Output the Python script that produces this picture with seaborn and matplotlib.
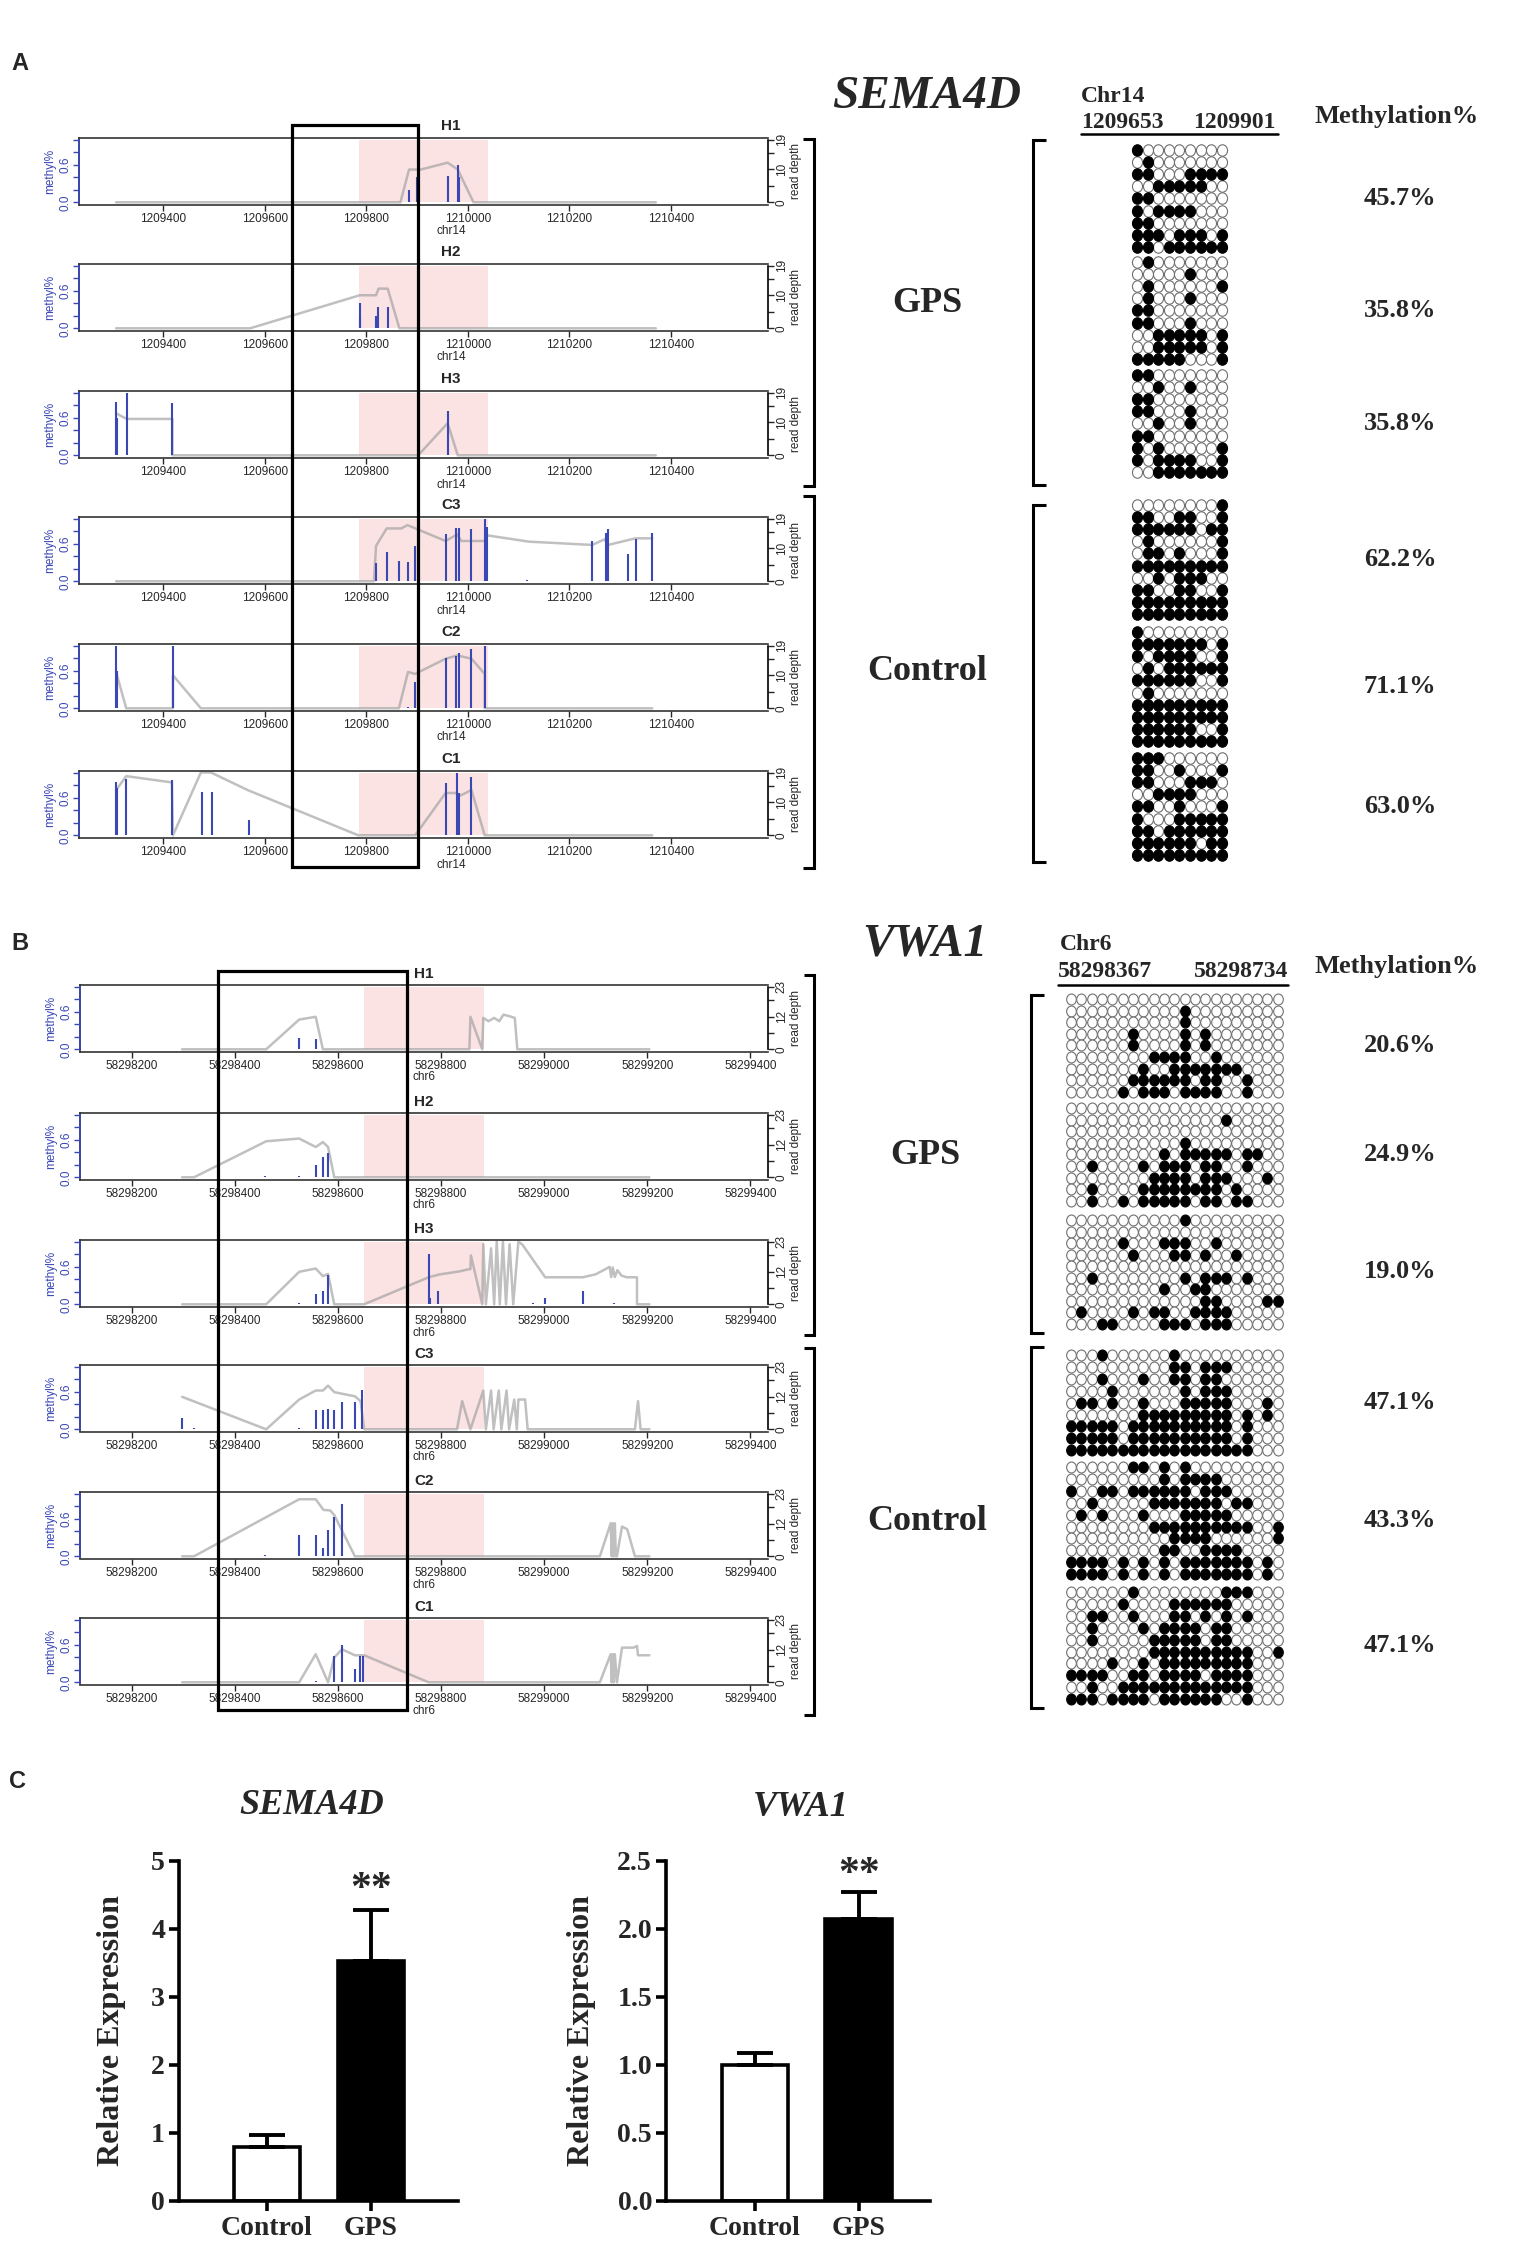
import numpy as np
import pandas as pd
import matplotlib
matplotlib.use("Agg")
import matplotlib.pyplot as plt
import seaborn as sns
from matplotlib.patches import Rectangle
from matplotlib.transforms import blended_transform_factory, Affine2D
from matplotlib.path import Path
from matplotlib.markers import MarkerStyle

sns.set_style("white")
SANS = ["Liberation Sans", "DejaVu Sans"]
SERIF = ["Liberation Serif", "DejaVu Serif"]
plt.rcParams["font.family"] = SANS

# ===================== DATA =====================
# ---- SEMA4D tracks (chr14) ----
sema_xticks = [1209400, 1209600, 1209800, 1210000, 1210200, 1210400]
sema_xlim = (1209234, 1210591)
sema_pink = (1209785, 1210040)
sema_region = (1209653, 1209901)
sema_depth_max = 19
sema_depth_ticks = [0, 5, 10, 15, 19]
sema_depth_labels = ["0", "", "10", "", "19"]
sema_names = ["H1", "H2", "H3", "C3", "C2", "C1"]

sema_h1_cov_x = [1209307, 1209867, 1209884, 1209907, 1209960, 1209980, 1210011, 1210370]
sema_h1_cov_y = [0, 0, 9.9, 9.9, 12, 9.9, 0, 0]
sema_h1_met_x = [1209884, 1209900, 1209960, 1209980, 1209983]
sema_h1_met_y = [0.2, 0.4, 0.42, 0.6, 0.4]

sema_h2_cov_x = [1209307, 1209571, 1209787, 1209819, 1209824, 1209842, 1209865, 1210370]
sema_h2_cov_y = [0, 0, 10, 10, 12, 12, 0, 0]
sema_h2_met_x = [1209787, 1209788, 1209819, 1209822, 1209842]
sema_h2_met_y = [0.4, 0.2, 0.2, 0.34, 0.34]

sema_h3_cov_x = [1209307, 1209328, 1209418, 1209418, 1209902, 1209960, 1209980, 1210370]
sema_h3_cov_y = [12.7, 11, 11, 0, 0, 9.7, 0, 0]
sema_h3_met_x = [1209307, 1209308, 1209328, 1209418, 1209960]
sema_h3_met_y = [0.85, 0.6, 1.0, 0.83, 0.71]

sema_c3_cov_x = [1209307, 1209815, 1209819, 1209840, 1209869, 1209881, 1209956, 1209979, 1209987,
                 1210033, 1210038, 1210120, 1210245, 1210269, 1210276, 1210330, 1210363]
sema_c3_cov_y = [0, 0, 10.7, 16, 16, 17, 12.2, 14.2, 12.2, 12.2, 13.9, 12, 11, 12.7, 11, 13, 13]
sema_c3_met_x = [1209819, 1209840, 1209864, 1209882, 1209896, 1209956, 1209976, 1209982, 1210007,
                 1210033, 1210038, 1210117, 1210245, 1210271, 1210276, 1210315, 1210332, 1210363]
sema_c3_met_y = [0.29, 0.46, 0.33, 0.3, 0.57, 0.76, 0.85, 0.85, 0.84, 1.0, 0.86, 0.02, 0.64, 0.77,
                 0.83, 0.43, 0.68, 0.77]

sema_c2_cov_x = [1209307, 1209327, 1209419, 1209419, 1209474, 1209864, 1209882, 1209896, 1209956,
                 1209979, 1210007, 1210033, 1210033, 1210363]
sema_c2_cov_y = [11, 0, 0, 10, 0, 0, 11, 10.4, 15, 16, 15, 10.4, 0, 0]
sema_c2_met_x = [1209307, 1209308, 1209419, 1209882, 1209896, 1209956, 1209976, 1209982, 1210007, 1210033]
sema_c2_met_y = [1.0, 0.6, 1.0, 0.02, 0.42, 0.8, 0.84, 0.88, 0.94, 1.0]

sema_c1_cov_x = [1209307, 1209327, 1209417, 1209419, 1209474, 1209494, 1209566, 1209784, 1209896,
                 1209956, 1209976, 1209982, 1210007, 1210033, 1210363]
sema_c1_cov_y = [13.7, 17.9, 16, 0, 19, 19, 13.7, 0, 0, 12.8, 12.8, 11.8, 13.7, 0, 0]
sema_c1_met_x = [1209307, 1209308, 1209327, 1209417, 1209476, 1209496, 1209569, 1209956, 1209978,
                 1209982, 1210007]
sema_c1_met_y = [0.85, 0.75, 0.89, 0.88, 0.69, 0.69, 0.25, 0.84, 1.0, 0.68, 0.93]

# ---- VWA1 tracks (chr6) ----
vwa_xticks = [58298200, 58298400, 58298600, 58298800, 58299000, 58299200, 58299400]
vwa_xlim = (58298100, 58299434)
vwa_pink = (58298651, 58298884)
vwa_region = (58298367, 58298734)
vwa_depth_max = 23
vwa_depth_ticks = [0, 6, 12, 18, 23]
vwa_depth_labels = ["0", "", "12", "", "23"]
vwa_names = ["H1", "H2", "H3", "C3", "C2", "C1"]

vwa_h1_cov_x = [58298298, 58298461, 58298525, 58298557, 58298571, 58298855, 58298857, 58298880,
                58298882, 58298892, 58298903, 58298913, 58298921, 58298933, 58298943, 58298948, 58299204]
vwa_h1_cov_y = [0, 0, 10.9, 11.9, 0, 0, 11.9, 0, 11.5, 10.3, 11.5, 10.3, 12.7, 12.1, 11.5, 0, 0]
vwa_h1_met_x = [58298525, 58298557, 58298885, 58298895, 58298905, 58298915, 58298925, 58298940]
vwa_h1_met_y = [0.18, 0.17, 0.01, 0.01, 0.01, 0.01, 0.01, 0.01]

vwa_h2_cov_x = [58298298, 58298321, 58298461, 58298525, 58298557, 58298571, 58298581, 58298593, 58299204]
vwa_h2_cov_y = [0, 0, 13.2, 14.2, 11.1, 12.9, 11.1, 0, 0]
vwa_h2_met_x = [58298459, 58298525, 58298557, 58298571, 58298581]
vwa_h2_met_y = [0.02, 0.02, 0.19, 0.32, 0.38]

vwa_h3_cov_x = [58298298, 58298461, 58298525, 58298557, 58298571, 58298581, 58298593, 58298651,
                58298776, 58298796, 58298837, 58298850, 58298857, 58298858, 58298880, 58298882,
                58298887, 58298897, 58298903, 58298908, 58298914, 58298920, 58298926, 58298933,
                58298940, 58298950, 58298958, 58299002, 58299075, 58299100, 58299127, 58299130,
                58299133, 58299137, 58299142, 58299150, 58299160, 58299180, 58299180, 58299204]
vwa_h3_cov_y = [0, 0, 11.9, 13.1, 10.3, 11.1, 0, 0, 9.9, 10.9, 12.1, 12.7, 12.9, 17.9, 0, 22, 0,
                20.5, 0, 23, 0, 23, 0, 22, 0, 23, 21.8, 9.9, 9.9, 11, 13.7, 10, 13.5, 10, 12.5,
                10.5, 9.9, 9.9, 0, 0]
vwa_h3_met_x = [58298525, 58298557, 58298572, 58298581, 58298776, 58298779, 58298794, 58298830,
                58298838, 58298955, 58298962, 58298970, 58298978, 58298985, 58299002, 58299075,
                58299080, 58299090, 58299110, 58299120, 58299135, 58299150]
vwa_h3_met_y = [0.02, 0.17, 0.21, 0.47, 0.8, 0.1, 0.21, 0.01, 0.01, 0.01, 0.01, 0.01, 0.02, 0.01,
                0.1, 0.21, 0.01, 0.01, 0.01, 0.01, 0.02, 0.01]

vwa_c3_cov_x = [58298298, 58298461, 58298525, 58298557, 58298571, 58298581, 58298593, 58298633,
                58298644, 58298651, 58298831, 58298841, 58298857, 58298882, 58298887, 58298897,
                58298902, 58298912, 58298917, 58298927, 58298932, 58298942, 58298947, 58298950,
                58298963, 58298968, 58299176, 58299182, 58299187, 58299204]
vwa_c3_cov_y = [11.9, 0, 10.9, 14.2, 14.2, 16, 13.6, 12.1, 10.3, 0, 0, 10.3, 0, 14.2, 0, 14.2, 0,
                14.2, 0, 14.2, 0, 10.9, 0, 10.9, 10.9, 0, 0, 10.3, 0, 0]
vwa_c3_met_x = [58298298, 58298321, 58298525, 58298557, 58298571, 58298581, 58298593, 58298608,
                58298633, 58298646, 58298840, 58298945, 58298955]
vwa_c3_met_y = [0.18, 0.02, 0.02, 0.31, 0.31, 0.33, 0.31, 0.43, 0.43, 0.62, 0.01, 0.01, 0.01]

vwa_c2_cov_x = [58298298, 58298321, 58298525, 58298557, 58298572, 58298585, 58298593, 58298633,
                58299108, 58299129, 58299131, 58299133, 58299135, 58299137, 58299139, 58299141,
                58299151, 58299161, 58299176, 58299204]
vwa_c2_cov_y = [0, 0, 20.9, 20.9, 17, 16.8, 15.1, 0, 0, 12.1, 0, 12.1, 0, 12.1, 0, 0, 10.9, 9.9, 0, 0]
vwa_c2_met_x = [58298459, 58298525, 58298557, 58298571, 58298581, 58298593, 58298608, 58299131,
                58299151, 58299161]
vwa_c2_met_y = [0.02, 0.34, 0.34, 0.13, 0.42, 0.63, 0.83, 0.01, 0.01, 0.01]

vwa_c1_cov_x = [58298298, 58298525, 58298557, 58298581, 58298593, 58298608, 58298633, 58298651,
                58298776, 58299108, 58299129, 58299131, 58299133, 58299135, 58299137, 58299141,
                58299151, 58299173, 58299180, 58299182, 58299204]
vwa_c1_cov_y = [0, 0, 10.3, 0, 9.1, 12.1, 9.9, 9.9, 0, 0, 10.3, 0, 10.3, 0, 10.3, 0, 12.7, 12.7,
                13.3, 9.9, 9.9]
vwa_c1_met_x = [58298557, 58298593, 58298608, 58298633, 58298643, 58298649, 58299131, 58299156,
                58299186, 58299194, 58299202]
vwa_c1_met_y = [0.02, 0.42, 0.6, 0.21, 0.42, 0.42, 0.01, 0.01, 0.01, 0.01, 0.01]

met_ticks = [0.0, 0.2, 0.4, 0.6, 0.8, 1.0]
met_labels = ["0.0", "", "", "0.6", "", ""]

# ---- bisulfite lollipop patterns (1 = methylated) ----
sema_gps_1 = ["100000000", "010000000", "110001111", "001111100", "110000000",
              "101111000", "110000000", "111011101", "110111111"]
sema_gps_2 = ["010000000", "000001000", "010000001", "010001000", "110000000",
              "110001000", "001111101", "001111101", "111110001"]
sema_gps_3 = ["110000000", "001001000", "110000000", "110001000", "001001000",
              "110000000", "101000001", "101111001", "001111111"]
sema_ctl_1 = ["000000001", "110011001", "111111011", "010000001", "011010001",
              "111111111", "001011100", "110011001", "111111111", "111111111"]
sema_ctl_2 = ["100000000", "111111101", "101111001", "010111111", "111111001",
              "010000000", "111111111", "111111111", "111111001", "111111111"]
sema_ctl_3 = ["111000000", "110010001", "110001110", "001111000", "110010001",
              "100011111", "110111111", "111111011", "111111111"]
sema_pct = ["45.7%", "35.8%", "35.8%", "62.2%", "71.1%", "63.0%"]

vwa_gps_1 = ["000000000000000000000", "000000000001000000000", "000000000001000000000",
             "000000100001010000000", "000000100001010000000", "000000001111001000000",
             "000000010011111110000", "000000111111011001000", "000001011101111001000"]
vwa_gps_2 = ["000000000000000000000", "000000000000000100000", "000000000000000000000",
             "000000000001000000000", "000000000101111101100", "001000010111011001000",
             "000000001111011100010", "001000011111111010000", "001001011111011011000"]
vwa_gps_3 = ["000000000001000000000", "000000000000000000000", "000001000111001000000",
             "000000100011010010000", "000000000000000000000", "001000000001011101000",
             "000000000100110000000", "000000000000011000011", "010000101100111100000",
             "000110000111011100000"]
vwa_ctl_1 = ["000100000010000000000", "000000000011011100000", "000100010011011000000",
             "000010000001011100000", "011010010001111100010", "000000011111111101010",
             "111110111111111101000", "111110111111111101000", "111111111111111111000"]
vwa_ctl_2 = ["000000110101000000000", "000000000101111000000", "100110111111011100000",
             "001000001111111011000", "010100010001111100000", "000000001111111111001",
             "000000000011110000001", "000000000110011110000", "111101010101111111010",
             "111101010101111111010"]
vwa_ctl_3 = ["000000100000000111000", "000001000011111100000", "001100100011010101000",
             "001000010111101100000", "001000001111101100000", "000000001111111111001",
             "000010010111111111000", "111100110111101111000", "001001111111111111000",
             "111011110111111001000"]
vwa_pct = ["20.6%", "24.9%", "19.0%", "47.1%", "43.3%", "47.1%"]

# ---- qPCR bars ----
bar_groups = ["Control", "GPS"]
sema_expr = [0.80, 3.53]
sema_err = [0.17, 0.75]
vwa_expr = [1.00, 2.07]
vwa_err = [0.09, 0.20]
sema_bar_ticks = [0, 1, 2, 3, 4, 5]
sema_bar_labels = ["0", "1", "2", "3", "4", "5"]
vwa_bar_ticks = [0.0, 0.5, 1.0, 1.5, 2.0, 2.5]
vwa_bar_labels = ["0.0", "0.5", "1.0", "1.5", "2.0", "2.5"]

# ===================== STYLE / LAYOUT =====================
W, H = 1531, 2241
DPI = 100
BLUE = "#3a47b4"
PINK = "#fbe2e3"
COV_GREY = "#9e9e9e"
BOX = "#333333"
TICK_FS = 8.5
Y_LO, Y_HI = -0.035, 1.024

fig = plt.figure(figsize=(W / DPI, H / DPI), dpi=DPI, facecolor="white")


def add_ax_px(left, top, right, bottom):
    return fig.add_axes([left / W, 1 - bottom / H, (right - left) / W, (bottom - top) / H])


def draw_track(left, top, right, height, xlim, xticks, pink, cov_x, cov_y, met_x, met_y,
               dmax, dticks, dlabels):
    bottom = top + height
    ax = add_ax_px(left, top, right, bottom)
    ax2 = ax.twinx()
    f0 = (0 - Y_LO) / (Y_HI - Y_LO)
    f1 = (0.985 - Y_LO) / (Y_HI - Y_LO)
    ax.axvspan(pink[0], pink[1], ymin=f0, ymax=f1, color=PINK, lw=0, zorder=0)
    sns.lineplot(x=cov_x, y=cov_y, ax=ax, sort=False, estimator=None, color=COV_GREY,
                 alpha=0.65, lw=1.8, zorder=2)
    ax2.vlines(met_x, 0, met_y, color=BLUE, lw=1.5)
    ax.set_xlim(*xlim)
    ax.set_ylim(Y_LO * dmax, Y_HI * dmax)
    ax2.set_ylim(Y_LO, Y_HI)
    for sp in ax.spines.values():
        sp.set_color(BOX)
        sp.set_linewidth(1.2)
    for nm in ["top", "right", "bottom"]:
        ax2.spines[nm].set_visible(False)
    ax2.spines["left"].set_color(BLUE)
    ax2.spines["left"].set_linewidth(1.3)
    ax2.spines["left"].set_bounds(0, 1)
    ax.spines["right"].set_bounds(0, dmax)
    ax.spines["right"].set_color("black")
    # right axis: read depth
    ax.yaxis.tick_right()
    ax.yaxis.set_label_position("right")
    ax.set_yticks(dticks)
    ax.set_yticklabels(dlabels, rotation=90, va="center", fontsize=TICK_FS)
    ax.tick_params(axis="y", length=4, width=1, pad=1.5)
    ax.set_ylabel("read depth", fontsize=TICK_FS, labelpad=2)
    ax.set_xticks(xticks)
    ax.set_xticklabels([str(t) for t in xticks], fontsize=TICK_FS)
    ax.tick_params(axis="x", length=4, width=1, pad=2, bottom=True)
    ax.set_xlabel("")
    # left axis: methylation
    ax2.yaxis.tick_left()
    ax2.yaxis.set_label_position("left")
    ax2.set_yticks(met_ticks)
    ax2.set_yticklabels(met_labels, rotation=90, va="center", fontsize=TICK_FS, color=BLUE)
    ax2.tick_params(axis="y", colors=BLUE, length=4, width=1, pad=1.5)
    ax2.set_ylabel("methyl%", color=BLUE, fontsize=TICK_FS, labelpad=2)
    return ax


sema_tracks = [
    (sema_h1_cov_x, sema_h1_cov_y, sema_h1_met_x, sema_h1_met_y),
    (sema_h2_cov_x, sema_h2_cov_y, sema_h2_met_x, sema_h2_met_y),
    (sema_h3_cov_x, sema_h3_cov_y, sema_h3_met_x, sema_h3_met_y),
    (sema_c3_cov_x, sema_c3_cov_y, sema_c3_met_x, sema_c3_met_y),
    (sema_c2_cov_x, sema_c2_cov_y, sema_c2_met_x, sema_c2_met_y),
    (sema_c1_cov_x, sema_c1_cov_y, sema_c1_met_x, sema_c1_met_y),
]
vwa_tracks = [
    (vwa_h1_cov_x, vwa_h1_cov_y, vwa_h1_met_x, vwa_h1_met_y),
    (vwa_h2_cov_x, vwa_h2_cov_y, vwa_h2_met_x, vwa_h2_met_y),
    (vwa_h3_cov_x, vwa_h3_cov_y, vwa_h3_met_x, vwa_h3_met_y),
    (vwa_c3_cov_x, vwa_c3_cov_y, vwa_c3_met_x, vwa_c3_met_y),
    (vwa_c2_cov_x, vwa_c2_cov_y, vwa_c2_met_x, vwa_c2_met_y),
    (vwa_c1_cov_x, vwa_c1_cov_y, vwa_c1_met_x, vwa_c1_met_y),
]

SEMA_TOPS = [138, 264, 391, 517, 644, 771]
VWA_TOPS = [985, 1113, 1240, 1365, 1492, 1618]
TRACK_H = 66.5
SEMA_LR = (79, 768)
VWA_LR = (80, 768)
SEMA_TITLE_X = 451
VWA_TITLE_X = 424

label_texts = []
sema_axes = []
for top, name, (cx, cy, mx, my) in zip(SEMA_TOPS, sema_names, sema_tracks):
    a = draw_track(SEMA_LR[0], top, SEMA_LR[1], TRACK_H, sema_xlim, sema_xticks, sema_pink,
                   cx, cy, mx, my, sema_depth_max, sema_depth_ticks, sema_depth_labels)
    sema_axes.append(a)
    label_texts.append((SEMA_TITLE_X, top - 12, name, SEMA_TITLE_X, top + TRACK_H + 27, "chr14"))

vwa_axes = []
for top, name, (cx, cy, mx, my) in zip(VWA_TOPS, vwa_names, vwa_tracks):
    a = draw_track(VWA_LR[0], top, VWA_LR[1], TRACK_H, vwa_xlim, vwa_xticks, vwa_pink,
                   cx, cy, mx, my, vwa_depth_max, vwa_depth_ticks, vwa_depth_labels)
    vwa_axes.append(a)
    label_texts.append((VWA_TITLE_X, top - 11, name, VWA_TITLE_X, top + TRACK_H + 26, "chr6"))

# black region rectangles spanning all tracks
for ax_ref, (x0, x1), ytop, ybot in [(sema_axes[0], sema_region, 125, 867),
                                     (vwa_axes[0], vwa_region, 971, 1710)]:
    tr = blended_transform_factory(ax_ref.transData, fig.transFigure)
    rect = Rectangle((x0, 1 - ybot / H), x1 - x0, (ybot - ytop) / H, transform=tr,
                     fill=False, ec="black", lw=2.3, zorder=10)
    fig.add_artist(rect)

# ---------------- bar charts (panel C) ----------------
BAR_COLORS = {"Control": "white", "GPS": "black"}


def draw_bar(left, top, right, bottom, values, errors, xlim, ylim, yticks, ylabels, label_x, star_y):
    axc = add_ax_px(left, top, right, bottom)
    df = pd.DataFrame({"group": bar_groups, "value": values})
    sns.barplot(data=df, x="group", y="value", hue="group", order=bar_groups, hue_order=bar_groups,
                palette=BAR_COLORS, edgecolor="black", linewidth=2.6, width=0.64, errorbar=None,
                legend=False, ax=axc, zorder=2)
    axc.errorbar([0, 1], values, yerr=[[0, 0], errors], fmt="none", ecolor="black",
                 elinewidth=2.8, capsize=13, capthick=2.8, zorder=3)
    axc.set_xlim(*xlim)
    axc.set_ylim(*ylim)
    for nm in ["top", "right"]:
        axc.spines[nm].set_visible(False)
    for nm in ["left", "bottom"]:
        axc.spines[nm].set_linewidth(2.6)
        axc.spines[nm].set_color("black")
    axc.set_yticks(yticks)
    axc.set_yticklabels(ylabels, fontfamily=SERIF, fontweight="bold", fontsize=20)
    axc.set_xticks([0, 1])
    axc.set_xticklabels(bar_groups, fontfamily=SERIF, fontweight="bold", fontsize=20)
    axc.tick_params(axis="both", direction="out", length=7, width=2.6, color="black",
                    left=True, bottom=True)
    axc.tick_params(axis="y", pad=3)
    axc.tick_params(axis="x", pad=4)
    axc.set_xlabel("")
    axc.set_ylabel("Relative Expression", fontfamily=SERIF, fontweight="bold", fontsize=23)
    axc.yaxis.set_label_coords(label_x, 0.5)
    axc.text(1, star_y, "**", ha="center", va="center", fontsize=30, fontweight="bold",
             fontfamily=SERIF)
    axc.set_facecolor("none")
    return axc


draw_bar(179, 1861, 458, 2201, sema_expr, sema_err, (-0.846, 1.837), (0, 5),
         sema_bar_ticks, sema_bar_labels, -0.19, 4.58)
draw_bar(666, 1861, 930, 2201, vwa_expr, vwa_err, (-0.855, 1.686), (0, 2.5),
         vwa_bar_ticks, vwa_bar_labels, -0.265, 2.40)

# ---------------- overlay (pixel coordinates) ----------------
ov = fig.add_axes([0, 0, 1, 1])
ov.set_xlim(0, W)
ov.set_ylim(H, 0)
ov.axis("off")
ov.patch.set_alpha(0)

ELLIPSE = MarkerStyle(Path.unit_circle().transformed(Affine2D().scale(0.88, 1.0)))


def draw_lollipop(rows, x0, px, y0, py, s):
    fx, fy, ox, oy = [], [], [], []
    for r, row in enumerate(rows):
        for c, ch in enumerate(row):
            xx, yy = x0 + c * px, y0 + r * py
            if ch == "1":
                fx.append(xx); fy.append(yy)
            else:
                ox.append(xx); oy.append(yy)
    if ox:
        ov.scatter(ox, oy, marker=ELLIPSE, s=s, facecolor="white", edgecolor="#6f6f6f",
                   linewidths=0.8, zorder=3)
    if fx:
        sns.scatterplot(x=fx, y=fy, ax=ov, marker=ELLIPSE, s=s, color="black", edgecolor="black",
                        linewidth=0.8, legend=False, zorder=4)
    return y0 + (len(rows) - 1) * py / 2


sema_groups = [sema_gps_1, sema_gps_2, sema_gps_3, sema_ctl_1, sema_ctl_2, sema_ctl_3]
SEMA_Y0 = [150, 262, 375, 505, 632, 758]
for rows, y0, pct in zip(sema_groups, SEMA_Y0, sema_pct):
    yc = draw_lollipop(rows, 1137, 10.6, y0, 12.1, 68)
    ov.text(1400, yc, pct, ha="center", va="center", fontfamily=SERIF, fontweight="bold",
            fontsize=19)

vwa_groups = [vwa_gps_1, vwa_gps_2, vwa_gps_3, vwa_ctl_1, vwa_ctl_2, vwa_ctl_3]
VWA_Y0 = [999, 1108, 1220, 1355, 1467, 1592]
VWA_PY = [11.6, 11.6, 11.5, 11.9, 11.9, 11.9]
for rows, y0, py, pct in zip(vwa_groups, VWA_Y0, VWA_PY, vwa_pct):
    yc = draw_lollipop(rows, 1071, 10.33, y0, py, 62)
    ov.text(1400, yc, pct, ha="center", va="center", fontfamily=SERIF, fontweight="bold",
            fontsize=19)

# track titles and chromosome labels
for tx, ty, name, lx, ly, chrom in label_texts:
    ov.text(tx, ty, name, ha="center", va="center", fontsize=11, fontweight="bold")
    ov.text(lx, ly, chrom, ha="center", va="center", fontsize=TICK_FS)


def bracket(xline, xarm, top, bottom):
    ov.plot([xarm, xline, xline, xarm], [top, top, bottom, bottom], color="black", lw=2.2,
            solid_joinstyle="miter", solid_capstyle="butt")


bracket(814, 803, 139, 486)
bracket(814, 803, 496, 868)
bracket(1033, 1046, 140, 485)
bracket(1033, 1046, 505, 862)
bracket(814, 804, 975, 1335)
bracket(814, 804, 1348, 1715)
bracket(1031, 1044, 995, 1333)
bracket(1031, 1044, 1347, 1708)

serif_bold = dict(fontfamily=SERIF, fontweight="bold")
ov.text(927, 97, "SEMA4D", ha="center", va="center", fontsize=34, fontstyle="italic", **serif_bold)
ov.text(925, 944, "VWA1", ha="center", va="center", fontsize=34, fontstyle="italic", **serif_bold)
ov.text(927, 303, "GPS", ha="center", va="center", fontsize=26, **serif_bold)
ov.text(927, 672, "Control", ha="center", va="center", fontsize=26, **serif_bold)
ov.text(925, 1156, "GPS", ha="center", va="center", fontsize=26, **serif_bold)
ov.text(927, 1521, "Control", ha="center", va="center", fontsize=26, **serif_bold)

ov.text(1081, 102, "Chr14", ha="left", va="baseline", fontsize=17, **serif_bold)
ov.text(1081, 128, "1209653", ha="left", va="baseline", fontsize=17, **serif_bold)
ov.text(1276, 128, "1209901", ha="right", va="baseline", fontsize=17, **serif_bold)
ov.plot([1081, 1278], [134, 134], color="black", lw=1.8)
ov.text(1397, 117, "Methylation%", ha="center", va="center", fontsize=19, **serif_bold)

ov.text(1060, 950, "Chr6", ha="left", va="baseline", fontsize=17, **serif_bold)
ov.text(1058, 977, "58298367", ha="left", va="baseline", fontsize=17, **serif_bold)
ov.text(1288, 977, "58298734", ha="right", va="baseline", fontsize=17, **serif_bold)
ov.plot([1058, 1288], [985, 985], color="black", lw=1.8)
ov.text(1397, 966, "Methylation%", ha="center", va="center", fontsize=19, **serif_bold)

ov.text(11, 64, "A", ha="left", va="center", fontsize=17, fontweight="bold")
ov.text(11, 944, "B", ha="left", va="center", fontsize=17, fontweight="bold")
ov.text(9, 1782, "C", ha="left", va="center", fontsize=17, fontweight="bold")

ov.text(312, 1805, "SEMA4D", ha="center", va="center", fontsize=26, fontstyle="italic", **serif_bold)
ov.text(801, 1808, "VWA1", ha="center", va="center", fontsize=26, fontstyle="italic", **serif_bold)

ov.set_xlim(0, W)
ov.set_ylim(H, 0)

fig.savefig("out.png", dpi=DPI, facecolor="white")
